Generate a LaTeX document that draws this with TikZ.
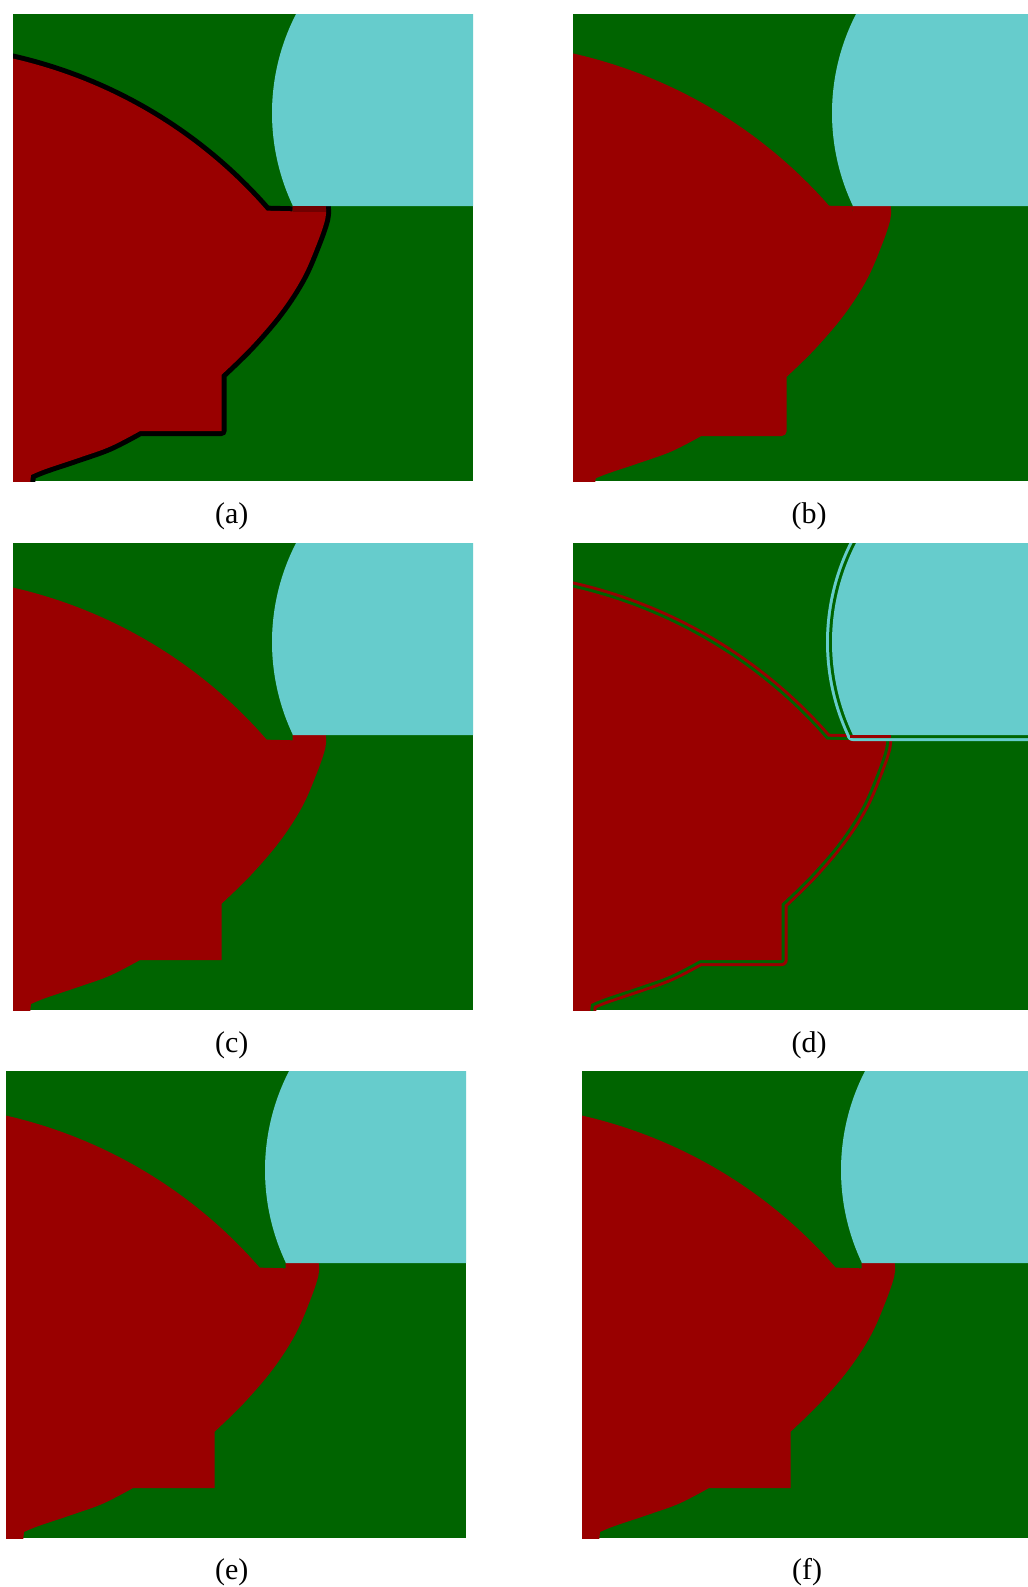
\documentclass[tikz,border=0pt]{standalone}
\usepackage{fontspec}
\setmainfont{Liberation Serif}
\definecolor{bggreen}{RGB}{0,100,0}
\definecolor{regred}{RGB}{153,0,0}
\definecolor{regcyan}{RGB}{102,204,204}
\definecolor{edgered}{RGB}{112,0,0}
\newcommand{\redA}{(-11,42.2) -- plot[domain=-78.5:-40.97,samples=60] ({-106+476.4*cos(\x)},{509+476.4*sin(\x)}) -- (279.7,197.3)}
\newcommand{\redB}{(312.7,192) -- plot[smooth,tension=0.6] coordinates {(312.7,192) (312.3,205) (303.7,230.4) (289,264) (267,298) (238,332) (208.7,360.6)} -- (208.7,417) -- (127,417) -- plot[smooth,tension=0.6] coordinates {(127,417) (97,432.6) (65.3,444) (32,455.2) (18,461)} -- (17,470) -- (16,485)}
\newcommand{\redregion}{\redA -- (279.7,192) -- \redB -- (-11,485) -- cycle}
\newcommand{\cyanedge}{(480,192) -- (279.7,192) -- plot[domain=154.73:210,samples=60] ({475.4+216.4*cos(\x)},{99.1+216.4*sin(\x)})}
\newcommand{\cyanregion}{\cyanedge -- (480,-10) -- cycle}
\tikzset{
  panelbg/.style={fill=bggreen},
  redfill/.style={fill=regred},
  cyanfill/.style={fill=regcyan},
  blackedge/.style={draw=black, line width=5pt, line join=round},
  dilateedge/.style={draw=regred, line width=5pt, line join=round},
  redtwin/.style={draw=regred, double=bggreen, line width=1.5pt, double distance=3pt, line join=round},
  cyantwin/.style={draw=regcyan, double=bggreen, line width=1.5pt, double distance=3pt, line join=round},
  caption/.style={font=\fontsize{15}{18}\selectfont, inner sep=0pt}
}
\begin{document}
\begin{tikzpicture}[x=0.5pt,y=-0.5pt]
\useasboundingbox (0,0) rectangle (1028,1587);
\fill[white] (0,0) rectangle (1028,1587);
% (a)
\begin{scope}[shift={(13,14)}]
  \clip (0,0) rectangle (460,467);
  \fill[panelbg] (0,0) rectangle (460,467);
  \draw[blackedge] \redA;
  \draw[blackedge] \redB;
  \fill[redfill] \redregion;
  \fill[cyanfill] \cyanregion;
  \fill[edgered] (279.7,192) rectangle (312.7,197.7);
\end{scope}
% (b)
\begin{scope}[shift={(573,14)}]
  \clip (0,0) rectangle (455,467);
  \fill[panelbg] (0,0) rectangle (455,467);
  \draw[dilateedge] \redA;
  \draw[dilateedge] \redB;
  \fill[redfill] \redregion;
  \fill[cyanfill] \cyanregion;
\end{scope}
% (c)
\begin{scope}[shift={(13,543)}]
  \clip (0,0) rectangle (460,467);
  \fill[panelbg] (0,0) rectangle (460,467);
  \fill[redfill] \redregion;
  \fill[cyanfill] \cyanregion;
\end{scope}
% (d)
\begin{scope}[shift={(573,543)}]
  \clip (0,0) rectangle (455,467);
  \fill[panelbg] (0,0) rectangle (455,467);
  \draw[redtwin] \redA;
  \draw[redtwin] \redB;
  \fill[redfill] \redregion;
  \draw[cyantwin] \cyanedge;
  \fill[cyanfill] \cyanregion;
  \fill[redfill] (277,192) rectangle (318,195);
\end{scope}
% (e)
\begin{scope}[shift={(6,1071)}]
  \clip (0,0) rectangle (460,467);
  \fill[panelbg] (0,0) rectangle (460,467);
  \fill[redfill] \redregion;
  \fill[cyanfill] \cyanregion;
\end{scope}
% (f)
\begin{scope}[shift={(582,1071)}]
  \clip (0,0) rectangle (446,467);
  \fill[panelbg] (0,0) rectangle (446,467);
  \fill[redfill] \redregion;
  \fill[cyanfill] \cyanregion;
\end{scope}
\node[caption] (capa) at (231.7,516) {(a)};
\node[caption] (capb) at (809,516) {(b)};
\node[caption] (capc) at (231.7,1045) {(c)};
\node[caption] (capd) at (809,1045) {(d)};
\node[caption] (cape) at (231.7,1572) {(e)};
\node[caption] (capf) at (807,1572) {(f)};
\end{tikzpicture}
\end{document}
